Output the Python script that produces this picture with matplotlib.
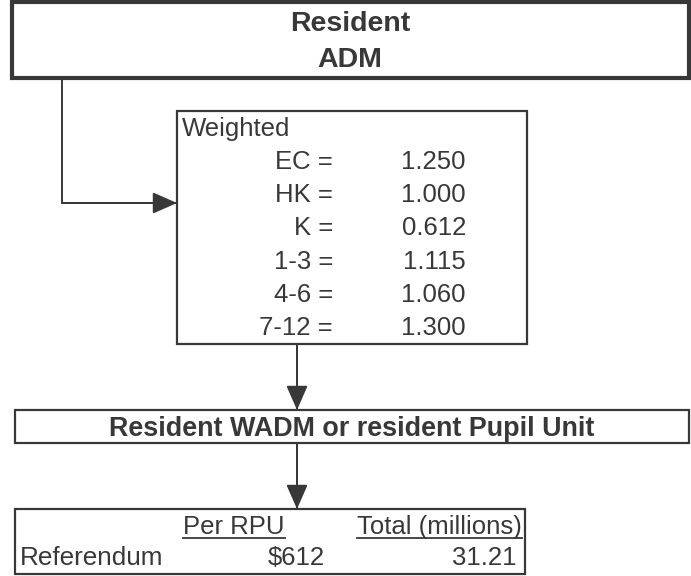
import matplotlib.pyplot as plt
from matplotlib.patches import Rectangle

plt.rcParams['font.family'] = ['Liberation Sans', 'DejaVu Sans']

title_top = ["Resident", "ADM"]
weight_title = "Weighted"
weight_labels = ["EC =", "HK =", "K =", "1-3 =", "4-6 =", "7-12 ="]
weight_values = [1.250, 1.000, 0.612, 1.115, 1.060, 1.300]
middle_title = "Resident WADM or resident Pupil Unit"
col_heads = ["Per RPU", "Total (millions)"]
row_name = "Referendum"
per_rpu = 612
total_millions = 31.21

ink = '#383838'
W, H = 691, 576

fig = plt.figure(figsize=(W / 100, H / 100), dpi=100)
ax = fig.add_axes([0, 0, 1, 1])
ax.set_xlim(0, W)
ax.set_ylim(H, 0)
ax.axis('off')


def box(x0, y0, x1, y1, lw):
    ax.add_patch(Rectangle((x0, y0), x1 - x0, y1 - y0, fill=False,
                           edgecolor=ink, linewidth=lw))


def arrow(pts):
    xs = [p[0] for p in pts]
    ys = [p[1] for p in pts]
    ax.plot(xs, ys, color=ink, lw=1.4)
    ax.annotate('', xy=pts[-1], xytext=pts[-2],
                arrowprops=dict(arrowstyle='-|>,head_length=0.75,head_width=0.33',
                                color=ink, lw=1.4,
                                mutation_scale=20, shrinkA=0, shrinkB=0))


# top box
box(12, 2, 689, 78, 3.0)
ax.text(350, 31, title_top[0], ha='center', va='baseline', fontsize=20.5,
        fontweight='bold', color=ink)
ax.text(350, 67, title_top[1], ha='center', va='baseline', fontsize=20.5,
        fontweight='bold', color=ink)

# connector to weighted box
arrow([(62, 78), (62, 203), (177, 203)])

# weighted box
box(177, 111, 527, 344, 1.6)
ax.text(182, 136, weight_title, ha='left', va='baseline', fontsize=18.5, color=ink)
for i, (lab, val) in enumerate(zip(weight_labels, weight_values)):
    y = 169 + i * 33.2
    ax.text(333, y, lab, ha='right', va='baseline', fontsize=18.5, color=ink)
    ax.text(466, y, f"{val:.3f}", ha='right', va='baseline', fontsize=18.5, color=ink)

arrow([(297, 344), (297, 410)])

# middle box
box(15, 410, 689, 443, 1.6)
ax.text(352, 436, middle_title, ha='center', va='baseline', fontsize=19.4,
        fontweight='bold', color=ink)

arrow([(297, 443), (297, 509)])

# bottom box
box(15, 509, 525, 574, 1.6)
heads = []
heads.append(ax.text(285, 534, col_heads[0], ha='right', va='baseline',
                     fontsize=18.5, color=ink))
heads.append(ax.text(522, 534, col_heads[1], ha='right', va='baseline',
                     fontsize=18.5, color=ink))
ax.text(20, 565, row_name, ha='left', va='baseline', fontsize=18.8, color=ink)
ax.text(325, 565, f"${per_rpu}", ha='right', va='baseline', fontsize=18.5, color=ink)
ax.text(517, 565, f"{total_millions:.2f}", ha='right', va='baseline', fontsize=18.5, color=ink)

# underline the column heads
fig.canvas.draw()
inv = ax.transData.inverted()
for t in heads:
    bb = t.get_window_extent()
    (xa, _), (xb, _) = inv.transform([(bb.x0, bb.y0), (bb.x1, bb.y0)])
    ax.plot([xa, xb], [538, 538], color=ink, lw=1.3)

fig.savefig('out.png', dpi=100)
